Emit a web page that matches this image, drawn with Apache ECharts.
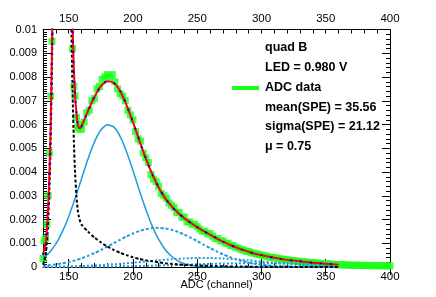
<!DOCTYPE html>
<html><head><meta charset="utf-8">
<script src="https://cdn.jsdelivr.net/npm/echarts@6/dist/echarts.min.js"></script>
<style>html,body{margin:0;padding:0;background:#fff}#c{width:436px;height:297px}</style>
</head><body><div id="c"></div>
<script>
// ---- tick labels ----
const xMajorTicks = [150, 200, 250, 300, 350, 400];

// ---- ADC data (green markers) ----
const dataX = [130,131,132,133,134,135,136,137,138,139,140,141,142,143,144,145,146,147,148,149,150,151,152,153,154,155,156,157,158,159,160,
  162,164,166,168,170,172,174,176,178,180,182,184,186,188,190,192,194,196,198,200,
  202,204,206,208,210,212,214,216,218,220,222,224,226,228,230,232,234,236,238,240,
  242,244,246,248,250,252,254,256,258,260,262,264,266,268,270,272,274,276,278,280,
  282,284,286,288,290,292,294,296,298,300,302,304,306,308,310,312,314,316,318,320,
  322,324,326,328,330,332,334,336,338,340,342,344,346,348,350,352,354,356,358,360,
  362,364,366,368,370,372,374,376,378,380,382,384,386,388,390,392,394,396,398,400];
const dataY = [0.00036,0.0011,0.0012,0.0018,0.0030,0.0048,0.0072,0.0095,0.014,0.019,0.025,0.030,0.036,0.040,0.042,0.043,0.041,0.037,0.033,0.028,0.022,0.0165,0.0128,0.0092,0.0076,0.0072,0.0063,0.0059,0.0058,0.0060,0.0058,
  0.0061,0.0065,0.0066,0.0070,0.0071,0.0075,0.0076,0.0079,0.0080,0.0081,0.0080,0.0081,0.0078,0.0075,0.0073,0.0072,0.0070,0.0066,0.0064,0.0062,
  0.0057,0.0054,0.0053,0.0048,0.0046,0.0044,0.0039,0.0037,0.0036,0.0034,0.0031,0.0030,0.0029,0.0027,0.0026,0.0025,0.0023,0.0023,0.0021,0.0021,
  0.0019,0.0019,0.0018,0.0018,0.0017,0.0016,0.0015,0.0015,0.0014,0.0014,0.0013,0.0012,0.0012,0.0011,0.0011,0.0010,0.0010,0.0009,0.0009,0.00082,
  0.0008,0.00074,0.00072,0.00066,0.00065,0.0006,0.00058,0.00055,0.00052,0.0005,0.00047,0.00046,0.00042,0.0004,0.00039,0.00037,0.00035,0.00033,0.00031,0.0003,
  0.00029,0.00027,0.00026,0.00024,0.00023,0.00022,0.00021,0.0002,0.00019,0.00018,0.00017,0.00016,0.00015,0.00014,0.00013,0.00013,0.00012,0.00011,0.0001,0.0001,
  0.00009,0.0001,0.00008,0.00009,0.00007,0.00008,0.00008,0.00007,0.00006,0.00007,0.00006,0.00007,0.00005,0.00006,0.00006,0.00005,0.00006,0.00005,0.00004,0.00005];

// ---- total fit ----
const fitX = [130,131,132,133,134,135,136,137,138,139,140,142,144,146,148,149,150,151,152,153,154,155,156,157,158,159,160,
  165,170,175,180,185,190,195,200,205,210,215,220,225,230,235,240,245,250,255,260,265,270,275,280,285,290,295,300,
  305,310,315,320,325,330,335,340,345,350,355,360];
const fitY = [0.00052,0.00072,0.001,0.00155,0.00251,0.004,0.00615,0.00933,0.0134,0.0185,0.0241,0.035,0.042,0.042,0.033,0.0271,0.0216,0.0168,0.0131,0.01026,0.00833,0.0072,0.0065,0.006,0.00586,0.00585,0.00592,
  0.00657,0.00716,0.00762,0.00782,0.00776,0.00741,0.00682,0.0061,0.00532,0.00457,0.00391,0.00335,0.0029,0.00256,0.00228,0.00205,0.00186,0.00168,0.00151,0.00136,0.00121,0.00107,0.00094,0.00083,0.00073,0.00064,0.00056,0.0005,
  0.00044,0.00039,0.00034,0.0003,0.00027,0.00024,0.00021,0.00018,0.00016,0.00014,0.00012,0.0001];

// ---- pedestal + tail component (black) ----
const pedX = [130,131,132,133,134,135,136,137,138,139,140,142,144,146,148,149,150,151,152,153,154,155,156,157,158,159,160,
  165,170,175,180,185,190,195,200,205,210,215,220,225,230,235,240,245,250,255,260,265,270,275,280,285,290,295,300,310,320,340,360];
const pedY = [0.0001,0.00025,0.0005,0.001,0.0019,0.0033,0.0054,0.0085,0.0125,0.0175,0.023,0.034,0.040,0.0405,0.0308,0.0249,0.0192,0.0143,0.0104,0.0074,0.0053,0.0039,0.003,0.0024,0.0021,0.0019,0.00178,
  0.00149,0.00124,0.00104,0.00086,0.00072,0.0006,0.0005,0.00041,0.00034,0.00028,0.00024,0.0002,0.00016,0.000135,0.00011,0.00009,0.000077,0.000064,0.000053,0.000044,0.000037,0.00003,0.000025,0.000021,0.000018,0.000015,0.000012,0.00001,0.000007,0.000005,0.000002,0.000001];

// ---- photo-electron components (light blue) ----
const peX = [130,135,140,145,150,155,160,165,170,175,180,185,190,195,200,205,210,215,220,225,230,235,240,245,250,255,260,265,270,275,280,285,290,295,300,305,310,315,320,325,330,335,340,345,350,355,360];
const pe1Y = [0.00036,0.00061,0.00097,0.00148,0.00212,0.00289,0.00372,0.00455,0.00526,0.00577,0.00599,0.0059,0.0055,0.00485,0.00406,0.00322,0.00242,0.00172,0.00116,0.00074,0.00045,0.00026,0.00014,0.00007,0.000035,0.000016,0.000007,0.000003,0.000001,0,0,0,0,0,0,0,0,0,0,0,0,0,0,0,0,0,0];
const pe2Y = [0.000054,0.000078,0.000111,0.000154,0.00021,0.00028,0.000366,0.000467,0.000584,0.000714,0.000855,0.001,0.001147,0.001286,0.001411,0.001516,0.001593,0.001638,0.00165,0.001625,0.001566,0.001477,0.001364,0.001232,0.001089,0.000942,0.000797,0.000661,0.000536,0.000425,0.00033,0.000251,0.000186,0.000136,0.0000966,0.0000673,0.0000459,0.0000307,0.00002,0.000013,0.000008,0.000005,0.000003,0.000002,0.000001,0.0000005,0.0000003];
const pe34X = [130,140,150,160,170,180,190,200,210,220,230,240,250,260,270,280,290,300,310,320,330,340,350,360];
const pe3Y = [0.000008,0.0000145,0.000025,0.000041,0.000064,0.000095,0.000134,0.00018,0.00023,0.000281,0.000326,0.00036,0.000378,0.000378,0.00036,0.000326,0.000281,0.00023,0.00018,0.000134,0.000095,0.000064,0.000041,0.000025];
const pe4Y = [0.0000018,0.000003,0.000005,0.0000079,0.0000121,0.000018,0.0000259,0.000036,0.0000485,0.0000631,0.0000796,0.000097,0.0001145,0.0001307,0.0001443,0.0001542,0.0001593,0.0001593,0.0001542,0.0001443,0.0001307,0.0001145,0.000097,0.0000796];

// ---- legend / stats text ----
const legendLines = ['quad B', 'LED = 0.980 V', 'ADC data', 'mean(SPE) = 35.56', 'sigma(SPE) = 21.12', 'μ = 0.75'];

const zip = (xs, ys) => xs.map((x, i) => [x, ys[i]]);
const FONT = 'Liberation Sans, Arial, Helvetica, sans-serif';
const BLUE = '#1f9bd8';
const GREEN = '#1aff1a';

const chart = echarts.init(document.getElementById('c'), null, {renderer: 'canvas'});

const baseX = (pos) => ({
  type: 'value', position: pos, min: 130, max: 400, interval: 10,
  axisLine: {show: true, onZero: false, lineStyle: {color: '#000', width: 1}},
  axisTick: {show: true, inside: true, length: 4, lineStyle: {color: '#000'}},
  axisLabel: {show: false}, splitLine: {show: false}
});
const majorX = (pos) => ({
  type: 'value', position: pos, min: 130, max: 400,
  axisLine: {show: false},
  axisTick: {show: true, inside: true, length: 8, customValues: xMajorTicks, lineStyle: {color: '#000'}},
  axisLabel: {show: true, customValues: xMajorTicks, color: '#000', fontSize: 11.5, fontFamily: FONT, margin: pos === 'top' ? 5 : 4},
  splitLine: {show: false}
});
const yAx = (pos, minorSplit, showLabel) => ({
  type: 'value', position: pos, min: 0, max: 0.01, interval: 0.001,
  axisLine: {show: true, onZero: false, lineStyle: {color: '#000', width: 1}},
  axisTick: {show: true, inside: true, length: 8, lineStyle: {color: '#000'}},
  minorTick: {show: true, splitNumber: minorSplit, length: 4, lineStyle: {color: '#000'}},
  axisLabel: {show: showLabel, color: '#000', fontSize: 11, fontFamily: FONT, margin: 6,
    formatter: v => v === 0 ? '0' : String(+v.toFixed(3))},
  splitLine: {show: false}, minorSplitLine: {show: false}
});

const lineSeries = (name, xs, ys, color, width, type, z) => ({
  name, type: 'line', xAxisIndex: 0, yAxisIndex: 0, data: zip(xs, ys),
  showSymbol: false, symbol: 'none', smooth: 0.2, clip: true, z,
  lineStyle: {color, width, type}, emphasis: {disabled: true}, silent: true, animation: false
});

chart.setOption({
  animation: false,
  backgroundColor: '#fff',
  grid: {left: 43, right: 46, top: 29.5, bottom: 30},
  xAxis: [baseX('bottom'), majorX('bottom'), baseX('top'), majorX('top')],
  yAxis: [yAx('left', 10, true), yAx('right', 5, false)],
  series: [
    {name: 'ADC data', type: 'scatter', xAxisIndex: 0, yAxisIndex: 0, data: zip(dataX, dataY),
      symbol: 'rect', symbolSize: 7, itemStyle: {color: GREEN}, clip: true, z: 1, silent: true},
    lineSeries('pe3', pe34X, pe3Y, BLUE, 2, [2, 2], 2),
    lineSeries('pe4', pe34X, pe4Y, BLUE, 2, [2, 2], 2),
    lineSeries('pe2', peX, pe2Y, BLUE, 2, [3, 2], 3),
    lineSeries('pe1', peX, pe1Y, BLUE, 1.5, 'solid', 3),
    lineSeries('ped', pedX, pedY, '#000', 2, [3, 2], 4),
    lineSeries('fit', fitX, fitY, '#ff0000', 2, 'solid', 5),
    lineSeries('fit2', fitX, fitY, '#0000ff', 2, [2, 8], 6)
  ],
  graphic: [
    {type: 'text', left: 216.5 - 36, top: 279, style: {text: 'ADC (channel)', fill: '#000', font: '11px ' + FONT}},
    {type: 'line', shape: {x1: 232, y1: 88, x2: 259, y2: 88}, style: {stroke: GREEN, lineWidth: 4}},
    ...legendLines.map((t, i) => ({
      type: 'text', x: 265, y: [47.5, 68, 88, 107.5, 127, 146.5][i],
      style: {text: t, fill: '#000', font: 'bold 12.5px ' + FONT, textVerticalAlign: 'middle', verticalAlign: 'middle'}
    }))
  ]
});
</script></body></html>
